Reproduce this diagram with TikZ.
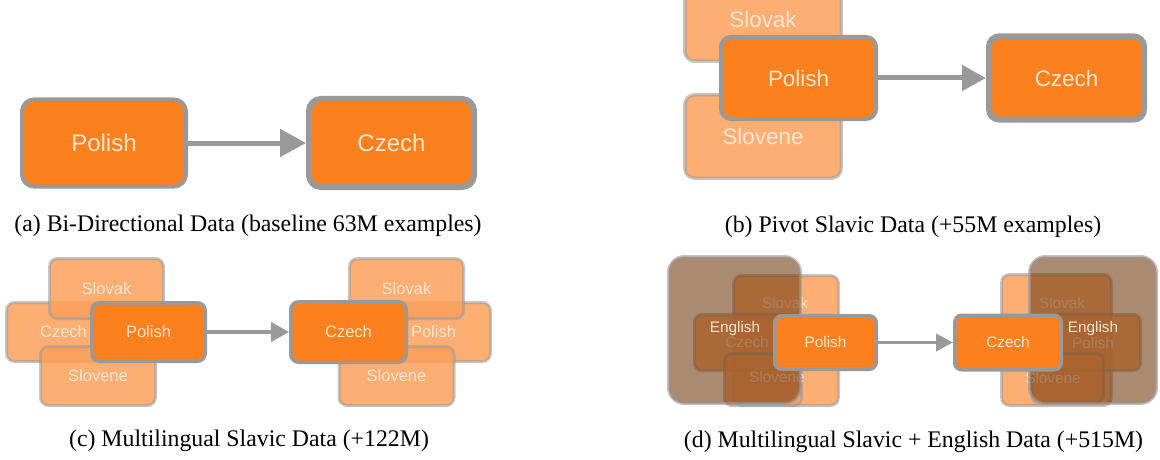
\documentclass[tikz,border=0pt]{standalone}
\usepackage{fontspec}
\setmainfont{Liberation Serif}
\newfontfamily\lbsans{Liberation Sans}
\usetikzlibrary{arrows.meta}
\definecolor{mainorange}{RGB}{253,128,30}
\definecolor{lightorange}{RGB}{252,160,90}
\definecolor{creamtext}{RGB}{252,230,208}
\definecolor{boxgray}{RGB}{153,153,153}
\definecolor{overbrown}{RGB}{115,60,20}
\tikzset{
  mainbox/.style={draw=boxgray, fill=mainorange, text=creamtext, inner sep=0pt},
  lightbox/.style={draw=boxgray, draw opacity=0.55, fill=lightorange, fill opacity=0.85,
                   text opacity=1, text=creamtext, inner sep=0pt},
  brownbox/.style={draw=boxgray, draw opacity=0.6, fill=overbrown, fill opacity=0.6,
                   inner sep=0pt, line width=3pt, rounded corners=16pt},
  flow/.style={draw=boxgray},
  capt/.style={font=\fontsize{23.8}{28}\selectfont, inner sep=0pt, text=black},
  fontA/.style={font=\lbsans\fontsize{24}{28}\selectfont},
  fontB/.style={font=\lbsans\fontsize{22.4}{26}\selectfont},
  fontC/.style={font=\lbsans\fontsize{16.5}{20}\selectfont},
  fontD/.style={font=\lbsans\fontsize{15.3}{18}\selectfont},
  labtext/.style={text=creamtext, inner sep=0pt},
}
\begin{document}
\begin{tikzpicture}[x=1pt,y=-1pt]
\useasboundingbox (0,0) rectangle (1160,460);

% ---------------- (a)
\node[mainbox, fontA, line width=4pt, rounded corners=12pt, minimum width=164pt, minimum height=87pt] (aPol) at (104,143) {Polish};
\node[mainbox, fontA, line width=6pt, rounded corners=12pt, minimum width=165pt, minimum height=88pt] (aCze) at (391.5,143) {Czech};
\draw[flow, line width=5pt, -{Triangle[length=26pt,width=27pt]}] (aPol.east) -- (aCze.west);
\node[capt] (capA) at (248,226) {(a) Bi-Directional Data (baseline 63M examples)};

% ---------------- (b)
\node[lightbox, fontB, line width=3.5pt, rounded corners=10pt, minimum width=156.5pt, minimum height=83.5pt] (bSlk) at (763,19.5) {Slovak};
\node[lightbox, fontB, line width=3.5pt, rounded corners=10pt, minimum width=156.5pt, minimum height=83.5pt] (bSln) at (763,136.5) {Slovene};
\node[mainbox, fontB, line width=4pt, rounded corners=10pt, minimum width=155pt, minimum height=82pt] (bPol) at (798.5,78) {Polish};
\node[mainbox, fontB, line width=6pt, rounded corners=10pt, minimum width=155pt, minimum height=83pt] (bCze) at (1066.5,78) {Czech};
\draw[flow, line width=5pt, -{Triangle[length=24pt,width=25pt]}] (bPol.east) -- (bCze.west);
\node[capt] (capB) at (913,227) {(b) Pivot Slavic Data (+55M examples)};

% ---------------- (c)
\node[lightbox, fontC, line width=3pt, rounded corners=8pt, minimum width=114pt, minimum height=59pt] (cCzl) at (63.5,332) {Czech};
\node[lightbox, fontC, line width=3pt, rounded corners=8pt, minimum width=114pt, minimum height=60pt] (cSlk) at (106.5,288.5) {Slovak};
\node[lightbox, fontC, line width=3pt, rounded corners=8pt, minimum width=115pt, minimum height=59pt] (cSln) at (98,376) {Slovene};
\node[mainbox, fontC, line width=3.5pt, rounded corners=8pt, minimum width=113.5pt, minimum height=58.5pt] (cPol) at (148.5,332) {Polish};

\node[lightbox, fontC, line width=3pt, rounded corners=8pt, minimum width=114pt, minimum height=59pt] (cPll) at (433.5,332) {Polish};
\node[lightbox, fontC, line width=3pt, rounded corners=8pt, minimum width=114pt, minimum height=60pt] (cSlkR) at (406.5,288.5) {Slovak};
\node[lightbox, fontC, line width=3pt, rounded corners=8pt, minimum width=115pt, minimum height=59pt] (cSlnR) at (396.5,376) {Slovene};
\node[mainbox, fontC, line width=3.5pt, rounded corners=8pt, minimum width=115.5pt, minimum height=60.5pt] (cCze) at (348.5,332) {Czech};
\draw[flow, line width=4pt, -{Triangle[length=18pt,width=19pt]}] (cPol.east) -- (cCze.west);
\node[capt] (capC) at (249,441) {(c) Multilingual Slavic Data (+122M)};

% ---------------- (d) left group
\node[lightbox, line width=3pt, rounded corners=8pt, minimum width=105pt, minimum height=130pt] (dLO) at (786,340.5) {};
\node[lightbox, line width=3pt, rounded corners=7pt, minimum width=105pt, minimum height=56pt] (dCzl) at (747,342.5) {};
\node[lightbox, line width=3pt, rounded corners=7pt, minimum width=77pt, minimum height=52pt] (dSln) at (763,379.5) {};
\node[labtext, fontD] (tSlk) at (785,303) {Slovak};
\node[labtext, fontD] (tCze) at (747,342) {Czech};
\node[labtext, fontD] (tSln) at (777,377) {Slovene};
\node[brownbox, minimum width=132pt, minimum height=147pt] (dBB) at (734.5,330) {};
\node[labtext, fontD] (tEng) at (735,329) {English};
\node[mainbox, fontD, line width=3.5pt, rounded corners=7pt, minimum width=101.5pt, minimum height=53.5pt] (dPol) at (825.5,342.5) {Polish};

% ---------------- (d) right group
\node[lightbox, line width=3pt, rounded corners=8pt, minimum width=110pt, minimum height=131pt] (dLOR) at (1056.5,340) {};
\node[lightbox, line width=3pt, rounded corners=7pt, minimum width=99pt, minimum height=56pt] (dPll) at (1091,342.5) {};
\node[lightbox, line width=3pt, rounded corners=7pt, minimum width=72pt, minimum height=49pt] (dSlnR) at (1067.5,378) {};
\node[labtext, fontD] (tSlkR) at (1062,303) {Slovak};
\node[labtext, fontD] (tPolR) at (1093,343) {Polish};
\node[labtext, fontD] (tSlnR) at (1053,378) {Slovene};
\node[brownbox, minimum width=127pt, minimum height=147pt] (dBBR) at (1093,330) {};
\node[labtext, fontD] (tEngR) at (1093,329) {English};
\node[mainbox, fontD, line width=3.5pt, rounded corners=7pt, minimum width=106.5pt, minimum height=54.5pt] (dCze) at (1008,342.5) {Czech};
\draw[flow, line width=3.5pt, -{Triangle[length=17pt,width=17pt]}] (dPol.east) -- (dCze.west);
\node[capt] (capD) at (913.5,442) {(d) Multilingual Slavic + English Data (+515M)};
\end{tikzpicture}
\end{document}
